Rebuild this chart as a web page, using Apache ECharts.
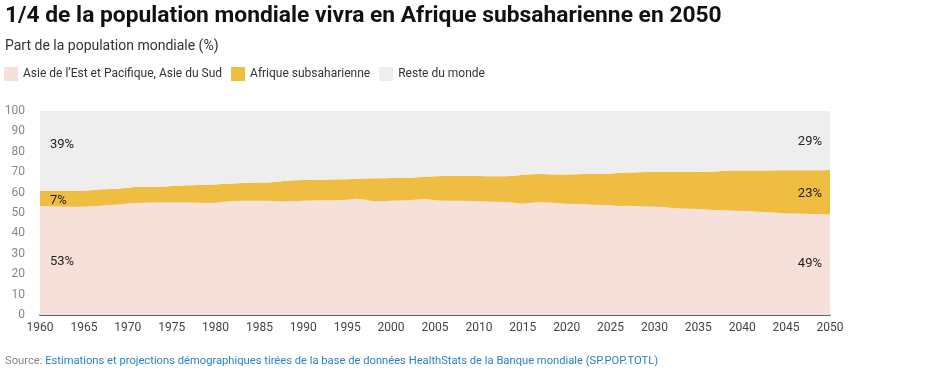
<!DOCTYPE html>
<html><head><meta charset="utf-8">
<script src="https://cdn.jsdelivr.net/npm/echarts@6/dist/echarts.min.js"></script>
<style>html,body{margin:0;padding:0;background:#fff}#c{width:929px;height:387px}</style>
</head><body><div id="c"></div>
<script>
const years = [];
for (let y = 1960; y <= 2050; y++) years.push(String(y));
const asia = [53.4,53.3,53.2,53.1,53.1,53.1,53.3,53.6,53.9,54.2,54.6,54.9,55.0,55.1,55.1,55.2,55.2,55.1,55.0,54.9,55.0,55.5,55.9,56.0,56.0,56.0,56.0,55.8,55.6,55.8,56.0,56.1,56.2,56.2,56.3,56.5,57.0,56.6,55.8,55.8,56.0,56.1,56.2,56.6,56.9,56.2,56.0,56.0,56.0,55.9,55.7,55.6,55.5,55.4,55.0,54.5,55.0,55.3,55.1,54.8,54.5,54.4,54.3,54.1,53.9,53.8,53.4,53.6,53.4,53.2,53.1,52.9,52.5,52.2,52.1,52.0,51.7,51.5,51.3,51.1,51.0,50.9,50.6,50.4,50.1,49.8,49.7,49.6,49.5,49.4,49.3];
const africa = [7.4,7.5,7.6,7.7,7.7,7.8,8.0,8.0,7.9,7.8,7.8,8.0,7.9,7.8,7.8,8.0,8.3,8.5,8.7,9.0,9.0,8.8,8.6,8.7,8.8,8.9,9.0,9.5,10.2,10.3,10.2,10.2,10.1,10.2,10.2,10.1,9.8,10.3,11.2,11.2,11.1,11.1,11.1,10.9,10.9,11.8,12.1,12.1,12.1,12.2,12.4,12.4,12.5,12.6,13.3,14.2,14.0,13.8,13.9,14.1,14.4,14.6,14.8,15.0,15.2,15.5,16.3,16.3,16.6,16.9,17.0,17.2,17.6,17.9,18.0,18.1,18.5,18.9,19.4,19.7,19.8,19.9,20.2,20.4,20.8,21.1,21.2,21.4,21.5,21.6,21.8];
const rest = [39.2,39.2,39.2,39.2,39.2,39.1,38.7,38.4,38.2,38.0,37.6,37.1,37.1,37.1,37.1,36.8,36.5,36.4,36.3,36.1,36.0,35.7,35.5,35.3,35.2,35.1,35.0,34.7,34.2,33.9,33.8,33.7,33.7,33.6,33.5,33.4,33.2,33.1,33.0,33.0,32.9,32.8,32.7,32.5,32.2,32.0,31.9,31.9,31.9,31.9,31.9,32.0,32.0,32.0,31.7,31.3,31.0,30.9,31.0,31.1,31.1,31.0,30.9,30.9,30.9,30.7,30.3,30.1,30.0,29.9,29.9,29.9,29.9,29.9,29.9,29.9,29.8,29.6,29.3,29.2,29.2,29.2,29.2,29.2,29.1,29.1,29.1,29.0,29.0,29.0,28.9];
const seriesNames = ['Asie de l’Est et Pacifique, Asie du Sud','Afrique subsaharienne','Reste du monde'];
const leftLabels = ['53%','7%','39%'];
const leftLabelY = [26.1,56.2,83.3];
const rightLabels = ['49%','23%','29%'];
const rightLabelY = [24.9,59.2,85.0];
const colors = ['#f6e1da','#efbd42','#eeeeee'];
const values = [asia, africa, rest];

const font = 'Roboto, "Noto Sans", sans-serif';
const chart = echarts.init(document.getElementById('c'));
chart.setOption({
  animation: false,
  textStyle: {fontFamily: font},
  title: [
    {text: '1/4 de la population mondiale vivra en Afrique subsaharienne en 2050', left: 5, top: 5, padding: 0,
     textStyle: {fontSize: 22.8, fontWeight: 'bold', color: '#111', fontFamily: font}},
    {text: 'Part de la population mondiale (%)', left: 5, top: 39, padding: 0,
     textStyle: {fontSize: 14, fontWeight: 'normal', color: '#333', fontFamily: font}},
    {text: '{g|Source: }{b|Estimations et projections démographiques tirées de la base de données HealthStats de la Banque mondiale (SP.POP.TOTL)}',
     left: 5, top: 356, padding: 0,
     textStyle: {fontWeight: 'normal', rich: {
       g: {fontSize: 11.2, color: '#888', fontWeight: 'normal', fontFamily: font},
       b: {fontSize: 11.2, color: '#2a82c4', fontWeight: 'normal', fontFamily: font}}}}
  ],
  legend: {
    left: 4, top: 67, padding: 0, icon: 'rect', itemWidth: 14, itemHeight: 14, itemGap: 9,
    textStyle: {fontSize: 12, color: '#333', fontFamily: font},
    data: seriesNames.map((n, i) => ({name: n, itemStyle: {color: colors[i]}}))
  },
  grid: {left: 40, right: 99, top: 111, bottom: 72, containLabel: false},
  xAxis: [
    {type: 'category', data: years, boundaryGap: false,
     axisLine: {show: false}, axisTick: {show: false}, splitLine: {show: false},
     axisLabel: {color: '#444', fontSize: 12, margin: 7, interval: 4}},
    {type: 'value', min: 1958.8, max: 2051, position: 'bottom',
     axisLine: {show: true, lineStyle: {color: '#333', width: 1.5}}, axisTick: {show: false},
     axisLabel: {show: false}, splitLine: {show: false}}
  ],
  yAxis: {type: 'value', min: 0, max: 100, interval: 10,
    axisLine: {show: false}, axisTick: {show: false}, splitLine: {show: false},
    axisLabel: {color: '#888', fontSize: 12, margin: 15}},
  series: values.map((arr, i) => ({
    name: seriesNames[i], type: 'line', stack: 'total', xAxisIndex: 0,
    data: arr,
    showSymbol: false, symbol: 'none', smooth: false,
    lineStyle: {width: 0}, itemStyle: {color: colors[i]},
    areaStyle: {color: colors[i], opacity: 1},
    markPoint: {
      symbol: 'circle', symbolSize: 0, silent: true,
      data: [
        {coord: [years[0], leftLabelY[i]], value: leftLabels[i],
         label: {show: true, formatter: leftLabels[i], position: 'right', distance: 10, color: '#222', fontSize: 13}},
        {coord: [years[years.length - 1], rightLabelY[i]], value: rightLabels[i],
         label: {show: true, formatter: rightLabels[i], position: 'left', distance: 8, color: '#222', fontSize: 13}}
      ]
    }
  }))
});
</script></body></html>
